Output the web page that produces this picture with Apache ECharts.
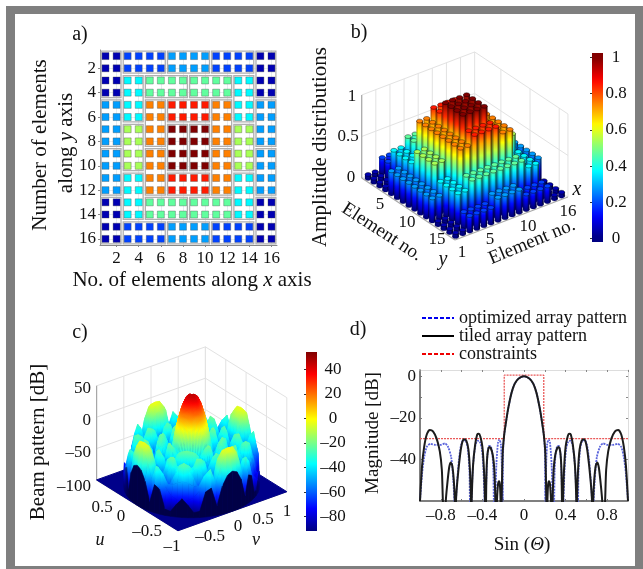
<!DOCTYPE html>
<html>
<head>
<meta charset="utf-8">
<title>Array patterns</title>
<script src="https://cdn.jsdelivr.net/npm/echarts@6/dist/echarts.min.js"></script>
<style>
html, body { margin: 0; padding: 0; background: #fff; }
#chart { width: 643px; height: 569px; }
</style>
</head>
<body>
<div id="chart"></div>
<script>
// tile: first col, first row, last col, last row, amplitude (panels a and b)
const tiles = [
  [1,1,2,4,0.05],[1,5,2,8,0.28],[1,9,2,12,0.28],[1,13,2,16,0.05],
  [15,1,16,4,0.05],[15,5,16,8,0.28],[15,9,16,12,0.28],[15,13,16,16,0.05],
  [3,1,6,2,0.19],[7,1,10,2,0.28],[11,1,14,2,0.19],
  [3,15,6,16,0.19],[7,15,10,16,0.28],[11,15,14,16,0.19],
  [3,3,4,6,0.37],[3,7,4,10,0.54],[3,11,4,14,0.37],
  [13,3,14,6,0.37],[13,7,14,10,0.54],[13,11,14,14,0.37],
  [5,3,8,4,0.47],[9,3,12,4,0.47],[5,13,8,14,0.47],[9,13,12,14,0.47],
  [5,5,6,8,0.75],[5,9,6,12,0.75],[11,5,12,8,0.75],[11,9,12,12,0.75],
  [7,5,10,6,0.85],[7,11,10,12,0.85],[7,7,8,10,1],[9,7,10,10,1]
];
const evenTicks = [2,4,6,8,10,12,14,16];

// panel c: beam pattern in dB, rows theta = 0,5..45 deg, columns r = 0,0.05..1
const beamTable = [
  [45,44,40,30,15,-5,-45,-28,-20,-45,-80,-35,-24,-45,-80,-45,-14,-6,-3,-8,-36],
  [45,44,40,30,14,-6,-42,-28,-22,-42,-75,-36,-28,-46,-75,-45,-16,-7,-4,-10,-40],
  [45,44,39,29,13,-8,-38,-32,-30,-45,-65,-45,-40,-55,-65,-55,-30,-18,-15,-26,-55],
  [45,44,39,28,12,-10,-38,-40,-45,-55,-60,-55,-50,-50,-55,-65,-60,-52,-48,-52,-85],
  [45,43,38,27,10,-12,-38,-50,-50,-40,-45,-60,-40,-30,-40,-70,-60,-45,-32,-28,-55],
  [45,43,38,26,9,-14,-40,-55,-40,-30,-35,-55,-35,-25,-25,-45,-65,-50,-40,-38,-60],
  [45,43,37,25,8,-15,-42,-60,-35,-26,-28,-50,-42,-25,-22,-35,-65,-60,-55,-60,-90],
  [45,43,37,25,7,-16,-44,-55,-32,-24,-28,-52,-55,-40,-35,-38,-45,-45,-55,-70,-92],
  [45,43,37,24,6,-17,-46,-48,-30,-23,-30,-58,-65,-50,-38,-30,-28,-30,-50,-75,-80],
  [45,43,37,24,6,-18,-48,-42,-30,-22,-32,-62,-70,-55,-38,-28,-24,-26,-48,-78,-70]
];

// panel d: right half of each cut, [sin theta, dB]
const tiledHalf = [
  [0,0],[0.03,-0.4],[0.06,-1.5],[0.09,-3.7],[0.12,-8],[0.15,-15],[0.17,-21],[0.19,-28],[0.205,-37],[0.215,-60],[0.22,-75],
  [0.225,-60],[0.232,-52],[0.24,-50.5],[0.25,-52],[0.26,-60],[0.268,-75],
  [0.275,-60],[0.285,-45],[0.3,-38],[0.32,-34.5],[0.335,-34],[0.35,-37],[0.36,-45],[0.365,-60],[0.37,-75],
  [0.375,-60],[0.385,-45],[0.4,-34],[0.42,-29],[0.435,-27.7],[0.45,-28],[0.47,-33],[0.49,-43],[0.503,-60],[0.507,-75],
  [0.51,-60],[0.52,-45],[0.535,-35],[0.555,-31],[0.575,-30.3],[0.595,-32],[0.615,-38],[0.64,-50],[0.654,-60],[0.66,-75],
  [0.665,-60],[0.675,-50],[0.69,-43],[0.705,-41.5],[0.72,-44],[0.74,-53],[0.752,-60],[0.766,-75],
  [0.78,-60],[0.79,-45],[0.81,-36],[0.84,-30],[0.875,-26.5],[0.905,-25.8],[0.935,-28],[0.96,-34],[0.98,-43],[1,-60]
];
const optimizedHalf = [
  [0,0],[0.03,-0.4],[0.06,-1.5],[0.09,-3.7],[0.12,-8],[0.15,-15],[0.17,-21],[0.19,-28],[0.2,-35],[0.205,-60],
  [0.212,-45],[0.222,-33],[0.237,-30.4],[0.25,-32],[0.265,-42],[0.275,-60],[0.28,-75],
  [0.29,-60],[0.295,-45],[0.305,-37],[0.32,-33.6],[0.335,-33.5],[0.35,-37],[0.36,-47],[0.368,-60],[0.373,-75],
  [0.38,-60],[0.39,-45],[0.405,-35],[0.425,-31.5],[0.449,-31],[0.47,-34],[0.49,-43],[0.505,-60],[0.51,-75],
  [0.52,-60],[0.525,-45],[0.54,-35],[0.56,-31],[0.583,-30.7],[0.605,-33],[0.625,-40],[0.645,-52],[0.654,-60],[0.66,-75],
  [0.67,-60],[0.68,-50],[0.7,-39],[0.73,-34],[0.76,-32.3],[0.8,-33],[0.85,-33],[0.9,-32.5],[0.935,-34],[0.96,-39],[0.98,-47],[1,-60]
];
const constraintLine = [[-1,-30],[-0.19,-30],[-0.19,0.5],[0.19,0.5],[0.19,-30],[1,-30]];

const SERIF = '"Liberation Serif", "Times New Roman", serif';

function jetRgb(v) {
  v = Math.max(0, Math.min(1, v));
  const f = (c) => Math.max(0, Math.min(1, 1.5 - Math.abs(4 * v - c)));
  return [f(3), f(2), f(1)].map((c) => Math.round(c * 255));
}
function jet(v) {
  return 'rgb(' + jetRgb(v).join(',') + ')';
}
function jetStops(v0, v1, n) {
  const stops = [];
  for (let i = 0; i <= n; i++) stops.push({ offset: i / n, color: jet(v0 + (v1 - v0) * i / n) });
  return stops;
}
const mirror = (half) => half.slice(1).map((p) => [-p[0], p[1]]).reverse().concat(half);

// element amplitudes from the tiles
let elements = [];
tiles.forEach((t) => {
  for (let c = t[0]; c <= t[2]; c++) for (let r = t[1]; r <= t[3]; r++) elements.push([c, r, t[4]]);
});

// panel b projection, picture pixels
const projB = (x, y, z) => [
  361.7 + (x - 0.5) * 7.06 + (y - 0.5) * 5.83,
  178 - (x - 0.5) * 2.69 + (y - 0.5) * 3.875 - z * 83
];
// panel c projection, picture pixels
const projC = (u, v, z) => [
  191.7 - u * 40.7 + v * 54.4,
  485.8 - u * 25.4 - v * 19.5 - (z + 100) * 0.627
];
const beamColor = (z) => (z + 91.6) / 145.6;

const barData = elements.slice().sort((a, b) => (b[0] - 1.21 * b[1]) - (a[0] - 1.21 * a[1]));

// wall and floor lines of the 3D panels
const wallsB = [];
[0.5,2.5,4.5,6.5,8.5,10.5,12.5,14.5,16.5].forEach((x) => wallsB.push([x,0.5,0,x,0.5,1]));
[5,10,15,16.5].forEach((y) => wallsB.push([16.5,y,0,16.5,y,1]));
[0,0.5,1].forEach((z) => {
  wallsB.push([0.5,0.5,z,16.5,0.5,z]);
  wallsB.push([16.5,0.5,z,16.5,16.5,z]);
});
const edgesB = [[0.5,0.5,0,0.5,16.5,0],[0.5,16.5,0,16.5,16.5,0],[0.5,0.5,0,0.5,0.5,1]];

const wallsC = [];
[-1,-0.5,0,0.5,1].forEach((t) => {
  wallsC.push([1,t,-100,1,t,50]);
  wallsC.push([t,1,-100,t,1,50]);
});
[-100,-50,0,50].forEach((z) => {
  wallsC.push([1,-1,z,1,1,z]);
  wallsC.push([1,1,z,-1,1,z]);
});
const edgesC = [[1,-1,-100,-1,-1,-100],[-1,-1,-100,-1,1,-100],[1,-1,-100,1,-1,50]];

// polar quads of the beam surface, mirrored from the 0-45 deg table
function beamAt(deg, ri) {
  let a = ((deg % 90) + 90) % 90;
  if (a > 45) a = 90 - a;
  return beamTable[Math.round(a / 5)][ri];
}
const polar = (deg, ri) => [ri * 0.05 * Math.cos(deg * Math.PI / 180), ri * 0.05 * Math.sin(deg * Math.PI / 180)];
let beamQuads = [];
for (let d = 0; d < 360; d += 5) {
  for (let ri = 0; ri < 20; ri++) {
    const a = polar(d, ri), b = polar(d + 5, ri), c = polar(d + 5, ri + 1), e = polar(d, ri + 1);
    beamQuads.push([
      a[0], a[1], beamAt(d, ri), b[0], b[1], beamAt(d + 5, ri),
      c[0], c[1], beamAt(d + 5, ri + 1), e[0], e[1], beamAt(d, ri + 1), 0
    ]);
  }
  // cut face at the visible-region rim
  const p = polar(d, 20), q = polar(d + 5, 20);
  beamQuads.push([
    p[0], p[1], -100, q[0], q[1], -100,
    q[0], q[1], beamAt(d + 5, 20), p[0], p[1], beamAt(d, 20), 1
  ]);
}
const quadDepth = (q) => (q[0] + q[3] + q[6] + q[9]) + 0.748 * (q[1] + q[4] + q[7] + q[10]);
beamQuads.sort((a, b) => quadDepth(b) - quadDepth(a));

// ---- render functions ----
function renderTile(params, api) {
  const p0 = api.coord([api.value(0) - 0.4, api.value(1) - 0.4]);
  const p1 = api.coord([api.value(2) + 0.4, api.value(3) + 0.4]);
  return {
    type: 'rect',
    shape: { x: p0[0], y: p0[1], width: p1[0] - p0[0], height: p1[1] - p0[1] },
    style: { fill: 'none', stroke: '#b0b0b0', lineWidth: 1.3 }
  };
}

function renderBar(params, api) {
  const x = api.value(0), y = api.value(1), v = api.value(2);
  const base = api.coord(projB(x, y, 0));
  const top = api.coord(projB(x, y, v));
  const w = 6.4, ry = 1.9;
  return {
    type: 'group',
    children: [
      { type: 'ellipse', shape: { cx: base[0], cy: base[1], rx: w / 2, ry: ry }, style: { fill: jet(0), stroke: 'rgba(0,0,40,0.6)', lineWidth: 0.5 } },
      {
        type: 'rect',
        shape: { x: base[0] - w / 2, y: top[1], width: w, height: base[1] - top[1] },
        style: { fill: new echarts.graphic.LinearGradient(0, 1, 0, 0, jetStops(0, v, 6)) }
      },
      {
        type: 'rect',
        shape: { x: base[0] - w / 2, y: top[1], width: w, height: base[1] - top[1] },
        style: {
          fill: new echarts.graphic.LinearGradient(0, 0, 1, 0, [
            { offset: 0, color: 'rgba(0,0,0,0.35)' },
            { offset: 0.3, color: 'rgba(0,0,0,0)' },
            { offset: 0.65, color: 'rgba(0,0,0,0)' },
            { offset: 1, color: 'rgba(0,0,0,0.8)' }
          ])
        }
      },
      { type: 'ellipse', shape: { cx: top[0], cy: top[1], rx: w / 2, ry: ry }, style: { fill: jet(v), stroke: 'rgba(0,0,0,0.6)', lineWidth: 0.7 } }
    ]
  };
}

function segmentRenderer(project, color, width) {
  return function (params, api) {
    const a = api.coord(project(api.value(0), api.value(1), api.value(2)));
    const b = api.coord(project(api.value(3), api.value(4), api.value(5)));
    return {
      type: 'line',
      shape: { x1: a[0], y1: a[1], x2: b[0], y2: b[1] },
      style: { stroke: color, lineWidth: width }
    };
  };
}

function renderFloorC(params, api) {
  return {
    type: 'polygon',
    shape: { points: [[1,-1],[-1,-1],[-1,1],[1,1]].map((c) => api.coord(projC(c[0], c[1], -100))) },
    style: { fill: '#00008a', stroke: '#00008a' }
  };
}

function renderQuad(params, api) {
  const pts = [], zs = [];
  for (let i = 0; i < 4; i++) {
    zs.push(api.value(i * 3 + 2));
    pts.push(api.coord(projC(api.value(i * 3), api.value(i * 3 + 1), api.value(i * 3 + 2))));
  }
  let lo = 0, hi = 0;
  zs.forEach((z, i) => { if (z < zs[lo]) lo = i; if (z > zs[hi]) hi = i; });
  const stops = jetStops(beamColor(zs[lo]), beamColor(zs[hi]), 4);
  if (api.value(12) === 1) {
    // cut faces turned to the viewer go dark
    const mu = (api.value(0) + api.value(3)) / 2, mv = (api.value(1) + api.value(4)) / 2;
    const facing = Math.max(0, Math.min(1, (-0.8 * mu - 0.6 * mv) / 0.4));
    stops.forEach((s, i) => {
      const c = jetRgb(beamColor(zs[lo]) + (beamColor(zs[hi]) - beamColor(zs[lo])) * i / 4);
      s.color = 'rgb(' + [c[0] * (1 - facing), c[1] * (1 - facing), c[2] * (1 - facing) + 70 * facing].map(Math.round).join(',') + ')';
    });
  }
  const fill = {
    type: 'linear', global: true,
    x: pts[lo][0], y: pts[lo][1], x2: pts[hi][0], y2: pts[hi][1] + 0.01,
    colorStops: stops
  };
  return {
    type: 'polygon',
    shape: { points: pts },
    style: { fill: fill, stroke: fill, lineWidth: 0.5 }
  };
}

function colorbarRenderer(toJet, low, high) {
  return function (params, api) {
    const a = api.coord([0, high]);
    const b = api.coord([1, low]);
    return {
      type: 'rect',
      shape: { x: a[0], y: a[1], width: b[0] - a[0], height: b[1] - a[1] },
      style: { fill: new echarts.graphic.LinearGradient(0, 1, 0, 0, jetStops(toJet(low), toJet(high), 32)) }
    };
  };
}

// ---- text ----
function txt(x, y, text, size, opt) {
  opt = opt || {};
  const style = {
    text: text, x: 0, y: 0,
    font: (opt.italic ? 'italic ' : '') + size + 'px ' + SERIF,
    fill: '#111', align: opt.align || 'center', verticalAlign: 'middle'
  };
  if (opt.rich) {
    style.rich = {
      r: { fontFamily: SERIF, fontSize: size, fill: '#111', color: '#111' },
      i: { fontFamily: SERIF, fontSize: size, fontStyle: 'italic', fill: '#111', color: '#111' }
    };
  }
  return { type: 'text', x: x, y: y, rotation: (opt.deg || 0) * Math.PI / 180, z: 100, silent: true, style: style };
}

const graphics = [
  // frame
  { type: 'rect', shape: { x: 6, y: 6, width: 637, height: 563 }, style: { fill: '#7f7f7f' }, z: -2, silent: true },
  { type: 'rect', shape: { x: 15, y: 14, width: 620, height: 552 }, style: { fill: '#fff' }, z: -1, silent: true },
  txt(80, 35, 'a)', 20), txt(359, 33, 'b)', 20), txt(80, 333, 'c)', 20), txt(358, 330, 'd)', 20),
  // panel a titles
  txt(40, 145, 'Number of elements', 21, { deg: 90 }),
  txt(66, 143, '{r|along }{i|y}{r| axis}', 21, { deg: 90, rich: true }),
  txt(192, 280, '{r|No. of elements along }{i|x}{r| axis}', 21, { rich: true }),
  // panel b
  txt(320, 147, 'Amplitude distributions', 21, { deg: 90 }),
  txt(352, 97, '1', 17), txt(348, 137, '0.5', 17), txt(351, 178, '0', 17),
  txt(380, 205, '5', 17), txt(407, 223, '10', 17), txt(437, 240, '15', 17), txt(462, 253, '1', 17),
  txt(490, 240, '5', 17), txt(528, 227, '10', 17), txt(568, 212, '16', 17),
  txt(382, 232, 'Element no.', 19, { deg: -33 }),
  txt(532, 242, 'Element no.', 19, { deg: 22.6 }),
  txt(443, 260, 'y', 20, { italic: true }), txt(577, 190, 'x', 20, { italic: true }),
  // panel c
  txt(38, 442, 'Beam pattern [dB]', 21, { deg: 90 }),
  txt(91, 389, '50', 17, { align: 'right' }), txt(91, 421, '0', 17, { align: 'right' }),
  txt(91, 453, '–50', 17, { align: 'right' }), txt(91, 487, '–100', 17, { align: 'right' }),
  txt(102, 508, '0.5', 17), txt(121, 517, '0', 17), txt(147, 532, '–0.5', 17), txt(172, 547, '–1', 17),
  txt(210, 537, '–0.5', 17), txt(238, 527, '0', 17), txt(263, 520, '0.5', 17), txt(287, 512, '1', 17),
  txt(100, 540, 'u', 18, { italic: true }), txt(256, 540, 'v', 18, { italic: true }),
  // panel d
  txt(373, 433, 'Magnitude [dB]', 19, { deg: 90 }),
  txt(522, 545, '{r|Sin (}{i|Θ}{r|)}', 19, { rich: true })
];

const dash = (v) => String(v).replace('-', '–');

const option = {
  animation: false,
  backgroundColor: '#fff',
  textStyle: { fontFamily: SERIF, color: '#111' },
  graphic: { elements: graphics },
  legend: {
    left: 416, top: 304, orient: 'vertical', itemWidth: 32, itemHeight: 18, itemGap: 0,
    textStyle: { fontFamily: SERIF, fontSize: 18, color: '#111' },
    data: [
      { name: 'optimized array pattern', itemStyle: { opacity: 0 }, lineStyle: { color: '#0000ee', type: [4, 2], width: 2, opacity: 1 } },
      { name: 'tiled array pattern', itemStyle: { opacity: 0 }, lineStyle: { color: '#000', width: 2, opacity: 1 } },
      { name: 'constraints', itemStyle: { opacity: 0 }, lineStyle: { color: '#ee0000', type: [4, 2], width: 2, opacity: 1 } }
    ]
  },
  grid: [
    { left: 100, top: 50, width: 177, height: 195 },
    { left: 420, top: 370, width: 208, height: 131 },
    { left: 592, top: 53, width: 11, height: 189 },
    { left: 306, top: 352, width: 11, height: 179 },
    { left: 0, top: 0, width: 643, height: 569 }
  ],
  xAxis: [
    {
      gridIndex: 0, type: 'value', min: 0.5, max: 16.5,
      axisLine: { lineStyle: { color: '#888' } },
      axisTick: { customValues: evenTicks, length: 2, lineStyle: { color: '#888' } },
      splitLine: { show: true, lineStyle: { color: '#e4ecf0' } },
      axisLabel: { customValues: evenTicks, color: '#111', fontSize: 17, margin: 5 }
    },
    {
      gridIndex: 1, type: 'value', min: -1, max: 1, interval: 0.2,
      axisLine: { onZero: false, lineStyle: { color: '#555', width: 1.5 } },
      axisTick: { inside: true, length: 2, lineStyle: { color: '#777' } },
      splitLine: { show: false },
      axisLabel: {
        customValues: [-0.8, -0.4, 0, 0.4, 0.8], color: '#111', fontSize: 17, margin: 6,
        formatter: dash
      }
    },
    {
      gridIndex: 1, type: 'value', position: 'top', min: -1, max: 1, interval: 0.2,
      axisLine: { onZero: false, lineStyle: { color: '#ddd' } },
      axisTick: { inside: true, length: 2, lineStyle: { color: '#888' } },
      splitLine: { show: false }, axisLabel: { show: false }
    },
    { gridIndex: 2, type: 'value', min: 0, max: 1, show: false },
    { gridIndex: 3, type: 'value', min: 0, max: 1, show: false },
    { gridIndex: 4, type: 'value', min: 0, max: 643, show: false }
  ],
  yAxis: [
    {
      gridIndex: 0, type: 'value', min: 0.5, max: 16.5, inverse: true,
      axisLine: { lineStyle: { color: '#888' } },
      axisTick: { customValues: evenTicks, length: 2, lineStyle: { color: '#888' } },
      splitLine: { show: true, lineStyle: { color: '#e4ecf0' } },
      axisLabel: { customValues: evenTicks, color: '#111', fontSize: 17, margin: 4 }
    },
    {
      gridIndex: 1, type: 'value', min: -60, max: 3,
      axisLine: { onZero: false, lineStyle: { color: '#555', width: 1.5 } },
      axisTick: { customValues: [0, -10, -20, -30, -40, -50], inside: true, length: 2, lineStyle: { color: '#777' } },
      splitLine: { show: false },
      axisLabel: { customValues: [0, -20, -40], color: '#111', fontSize: 17, margin: 4, formatter: dash }
    },
    {
      gridIndex: 1, type: 'value', position: 'right', min: -60, max: 3,
      axisLine: { onZero: false, lineStyle: { color: '#ddd' } },
      axisTick: { customValues: [0, -10, -20, -30, -40, -50], inside: true, length: 2, lineStyle: { color: '#888' } },
      splitLine: { show: false }, axisLabel: { show: false }
    },
    {
      gridIndex: 2, type: 'value', position: 'right', min: -0.02, max: 1.025,
      axisLine: { show: false },
      axisTick: { customValues: [0, 0.2, 0.4, 0.6, 0.8, 1], inside: true, length: 2, lineStyle: { color: '#333' } },
      splitLine: { show: false },
      axisLabel: { customValues: [0, 0.2, 0.4, 0.6, 0.8, 1], align: 'center', margin: 13, color: '#111', fontSize: 17 }
    },
    {
      gridIndex: 3, type: 'value', position: 'right', min: -91.6, max: 54,
      axisLine: { show: false },
      axisTick: { customValues: [-80, -60, -40, -20, 0, 20, 40], inside: true, length: 2, lineStyle: { color: '#333' } },
      splitLine: { show: false },
      axisLabel: { customValues: [-80, -60, -40, -20, 0, 20, 40], align: 'center', margin: 16, color: '#111', fontSize: 17, formatter: dash }
    },
    { gridIndex: 4, type: 'value', min: 0, max: 569, inverse: true, show: false }
  ],
  series: [
    // panel a
    {
      type: 'custom', xAxisIndex: 0, yAxisIndex: 0, silent: true, clip: false, z: 3,
      renderItem: renderTile, data: tiles
    },
    {
      type: 'scatter', xAxisIndex: 0, yAxisIndex: 0, silent: true, z: 4,
      symbol: 'rect', symbolSize: 7,
      itemStyle: {
        color: (p) => jet(p.value[2]),
        borderColor: 'rgba(70,70,70,0.45)', borderWidth: 0.8, opacity: 1
      },
      data: elements
    },
    // panel b
    {
      type: 'custom', xAxisIndex: 5, yAxisIndex: 5, silent: true, clip: false, z: 2,
      renderItem: segmentRenderer(projB, '#e2e2e2', 1), data: wallsB
    },
    {
      type: 'custom', xAxisIndex: 5, yAxisIndex: 5, silent: true, clip: false, z: 2.5,
      renderItem: segmentRenderer(projB, '#a8a8a8', 1.2), data: edgesB
    },
    {
      type: 'custom', xAxisIndex: 5, yAxisIndex: 5, silent: true, clip: false, z: 3, progressive: 0,
      renderItem: renderBar, data: barData
    },
    {
      type: 'custom', xAxisIndex: 3, yAxisIndex: 3, silent: true, clip: false,
      renderItem: colorbarRenderer((v) => v, -0.02, 1.025), data: [[0, 0]]
    },
    // panel c
    {
      type: 'custom', xAxisIndex: 5, yAxisIndex: 5, silent: true, clip: false, z: 2,
      renderItem: segmentRenderer(projC, '#e2e2e2', 1), data: wallsC
    },
    {
      type: 'custom', xAxisIndex: 5, yAxisIndex: 5, silent: true, clip: false, z: 2.5,
      renderItem: segmentRenderer(projC, '#a8a8a8', 1.2), data: edgesC
    },
    {
      type: 'custom', xAxisIndex: 5, yAxisIndex: 5, silent: true, clip: false, z: 3,
      renderItem: renderFloorC, data: [[0, 0]]
    },
    {
      type: 'custom', xAxisIndex: 5, yAxisIndex: 5, silent: true, clip: false, z: 4, progressive: 0,
      renderItem: renderQuad, data: beamQuads
    },
    {
      type: 'custom', xAxisIndex: 4, yAxisIndex: 4, silent: true, clip: false,
      renderItem: colorbarRenderer(beamColor, -91.6, 54), data: [[0, 0]]
    },
    // panel d
    {
      name: 'optimized array pattern', type: 'line', xAxisIndex: 1, yAxisIndex: 1,
      showSymbol: false, symbol: 'none', smooth: 0.25, silent: true, z: 3,
      lineStyle: { color: '#5a64dc', width: 1.8, type: [2, 1] },
      data: mirror(optimizedHalf)
    },
    {
      name: 'constraints', type: 'line', xAxisIndex: 1, yAxisIndex: 1,
      showSymbol: false, symbol: 'none', silent: true, z: 4,
      lineStyle: { color: '#ea5a5a', width: 1.3, type: [2, 1] },
      data: constraintLine
    },
    {
      name: 'tiled array pattern', type: 'line', xAxisIndex: 1, yAxisIndex: 1,
      showSymbol: false, symbol: 'none', smooth: 0.25, silent: true, z: 5,
      lineStyle: { color: '#1c1c1c', width: 2 },
      data: mirror(tiledHalf)
    }
  ]
};

const chart = echarts.init(document.getElementById('chart'), null, { renderer: 'canvas' });
chart.setOption(option);
</script>
</body>
</html>
